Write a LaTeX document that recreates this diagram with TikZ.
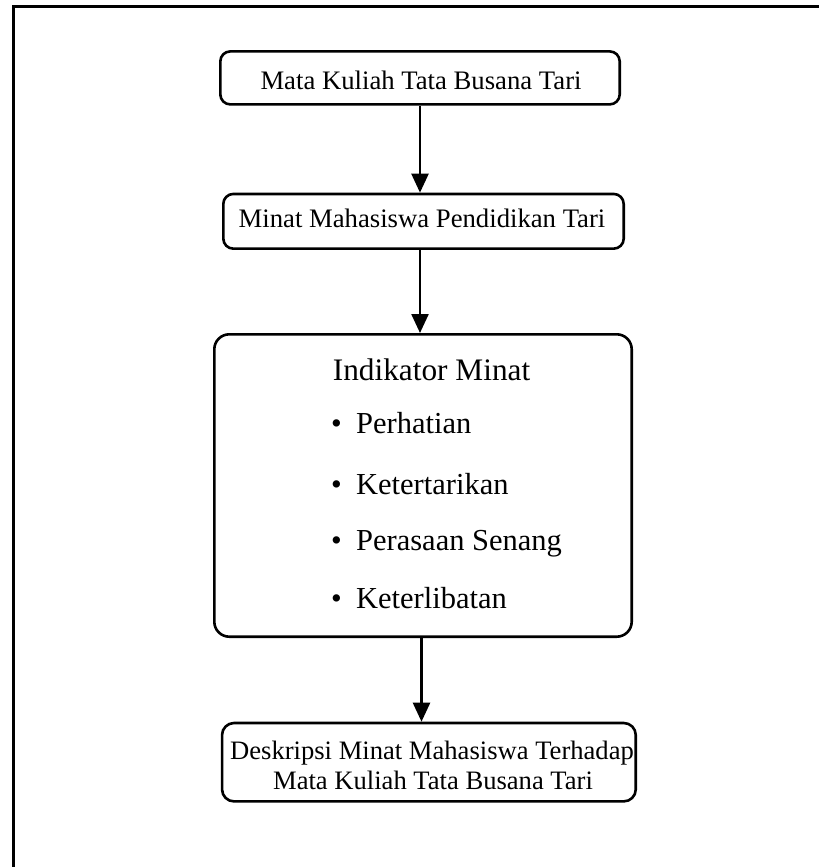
\documentclass[tikz,border=0pt]{standalone}
\usepackage{fontspec}
\setmainfont{Liberation Serif}
\usetikzlibrary{arrows.meta}
\begin{document}
\begin{tikzpicture}[x=1pt,y=-1pt,
  box/.style={draw, line width=2.6pt, inner sep=0pt},
  arr/.style={-{Triangle[length=19pt,width=17pt]}, line width=2.4pt},
  lbl/.style={font=\fontsize{26.7}{30}\selectfont, inner sep=0pt, anchor=base},
  big/.style={font=\fontsize{30.5}{34}\selectfont, inner sep=0pt, anchor=base west}]
\useasboundingbox (0,0) rectangle (819,867);
\fill[white] (0,0) rectangle (819,867);
\draw[line width=3pt] (13.5,867) -- (13.5,6.5) -- (819,6.5);

% boxes
\node[box, rounded corners=10pt, minimum width=399.4pt, minimum height=53pt] (b1) at (420,77.9) {};
\node[box, rounded corners=10pt, minimum width=400.4pt, minimum height=54.7pt] (b2) at (423.5,221.3) {};
\node[box, rounded corners=15pt, minimum width=417.4pt, minimum height=302.4pt] (b3) at (423,485.5) {};
\node[box, rounded corners=12pt, minimum width=413.7pt, minimum height=78.4pt] (b4) at (428.9,762.2) {};

% texts
\node[lbl] (t1) at (421,89.3) {Mata Kuliah Tata Busana Tari};
\node[lbl] (t2) at (422,227.7) {Minat Mahasiswa Pendidikan Tari};
\node[big, font=\fontsize{31.3}{34}\selectfont] (t3) at (332.7,380) {Indikator Minat};
\node[big] (i1) at (331,433.3) {\textbullet\hspace{14.3pt}Perhatian};
\node[big] (i2) at (331,494) {\textbullet\hspace{14.3pt}Ketertarikan};
\node[big] (i3) at (331,550.7) {\textbullet\hspace{14.3pt}Perasaan Senang};
\node[big] (i4) at (331,608) {\textbullet\hspace{14.3pt}Keterlibatan};
\node[lbl, font=\fontsize{26.6}{30}\selectfont] (t4a) at (432,759) {Deskripsi Minat Mahasiswa Terhadap};
\node[lbl, font=\fontsize{26.6}{30}\selectfont] (t4b) at (433,789) {Mata Kuliah Tata Busana Tari};

% connectors
\draw[arr] (b1.south) -- (b1.south |- b2.north);
\draw[arr] (b2.south -| b1.south) -- (b1.south |- b3.north);
\draw[arr] ([xshift=1.5pt]b3.south -| b1.south) -- ([xshift=1.5pt]b1.south |- b4.north);
\end{tikzpicture}
\end{document}
